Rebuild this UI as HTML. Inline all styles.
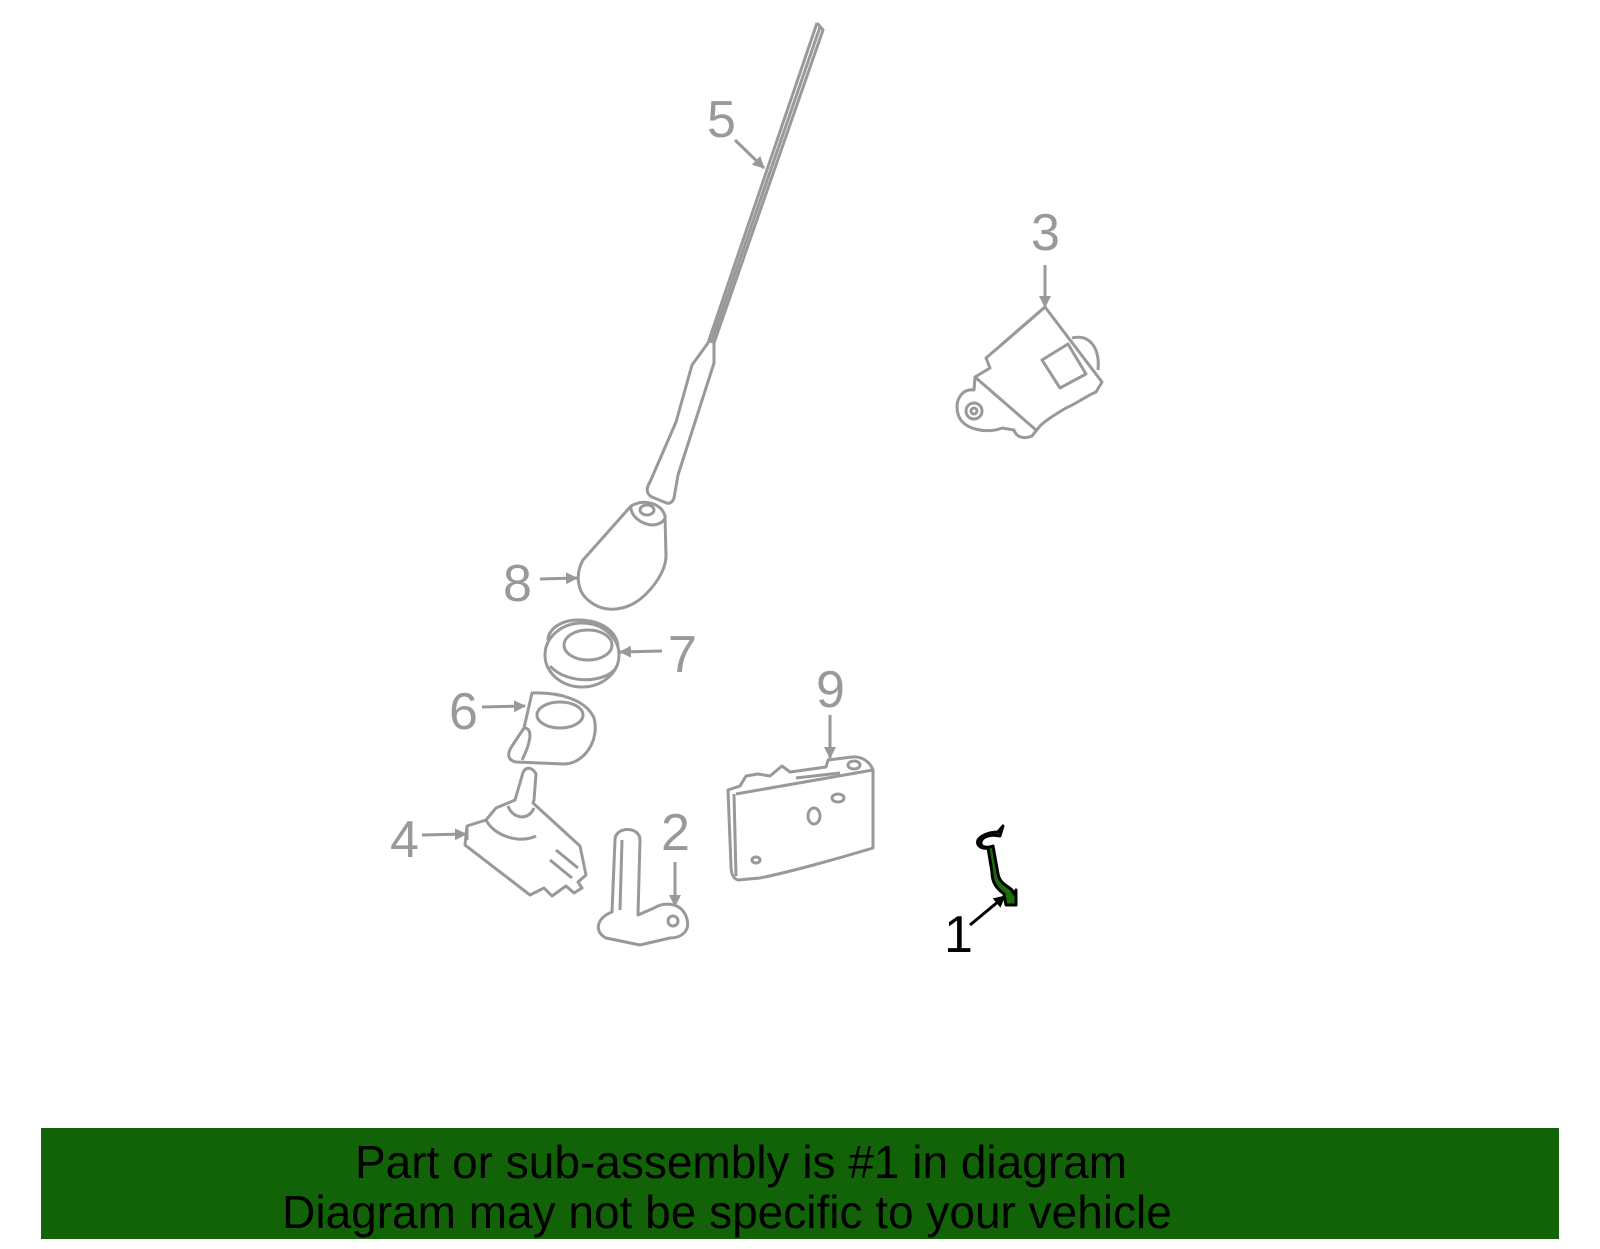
<!DOCTYPE html>
<html><head><style>
html,body{margin:0;padding:0;background:#fff;}
svg{display:block;}
text{font-family:"Liberation Sans",sans-serif;}
</style></head><body>
<svg width="1600" height="1249" viewBox="0 0 1600 1249">
<defs>
<marker id="ag" markerWidth="12" markerHeight="12" refX="11" refY="6" orient="auto" markerUnits="userSpaceOnUse"><path d="M0,0 L12,6 L0,12 Z" fill="#999"/></marker>
<marker id="ab" markerWidth="12" markerHeight="12" refX="11" refY="6" orient="auto" markerUnits="userSpaceOnUse"><path d="M0,0 L12,6 L0,12 Z" fill="#000"/></marker>
</defs>
<g fill="none" stroke="#999" stroke-width="3" stroke-linejoin="round">
<!-- 5 antenna -->
<path d="M817,23 L823,30 L714,343 L714,363 L678,475 L674,498 C672,504 668,504 664,502 L652,497 C646,494 646,488 650,482 L676,422 L692,365 L708,343 L817,23"/>
<path d="M820,27 L711,343"/>
<!-- 8 -->
<path d="M631,506 L583,560 C576,572 576,590 588,600 C604,614 628,612 646,594 C660,580 666,566 666,556 L665,516 C662,504 645,498 631,506 Z"/>
<path d="M631,506 C630,515 640,524 652,525 C660,525 666,520 665,516"/>
<ellipse cx="647" cy="510" rx="7" ry="5"/>
<!-- 7 -->
<ellipse cx="582" cy="655" rx="37" ry="32"/>
<path d="M548,640 C548,630 560,620 578,620 C600,620 616,630 618,646"/>
<ellipse cx="588" cy="645" rx="24" ry="15"/>
<path d="M550,666 C566,684 604,684 616,668"/>
<!-- 6 -->
<path d="M532,693 C560,692 586,700 594,718 C600,740 584,764 564,764 L516,762 C506,760 508,752 512,746 L524,728 Z"/>
<ellipse cx="560" cy="715" rx="23" ry="13"/>
<path d="M524,728 C534,728 530,744 522,760"/>
<!-- 4 -->
<path d="M467,826 L486,820 L496,808 L508,803 L515,800 L522,776 C524,766 532,766 536,774 L534,800 L533,803 L580,846 L586,875 L578,882 L582,888 L574,893 L566,886 L552,896 L544,888 L530,895 L465,845 Z"/>
<path d="M467,826 L467,840"/>
<path d="M486,820 C494,836 520,844 536,836"/>
<path d="M508,806 C512,818 528,822 534,808"/>
<path d="M550,860 L572,878 M556,850 L578,868"/>
<!-- 2 -->
<path d="M615,840 C615,826 640,826 640,840 L638,915 L654,908 C664,902 680,902 686,916 C692,932 680,938 670,938 L640,945 L606,938 C594,932 596,918 612,912 Z"/>
<path d="M622,840 L620,910"/>
<circle cx="673" cy="921" r="5"/>
<!-- 9 -->
<path d="M728,790 L740,786 L746,776 L758,774 L770,776 L782,766 L790,772 L826,767 L828,760 L852,757 C862,756 870,762 873,770 L873,848 C840,858 790,872 760,878 L738,880 C732,878 731,872 731,866 L728,790 Z"/>
<path d="M734,794 L736,876"/>
<path d="M736,794 L873,770"/>
<path d="M796,778 L840,773"/>
<ellipse cx="814" cy="816" rx="6" ry="8"/>
<ellipse cx="838" cy="798" rx="6" ry="4"/>
<ellipse cx="756" cy="860" rx="4" ry="3"/>
<ellipse cx="854" cy="765" rx="6" ry="4"/>
<!-- 3 -->
<path d="M1045,307 L1102,382 L1096,392 C1086,396 1076,404 1066,408 C1056,414 1046,420 1040,426 L1032,436 C1022,440 1016,436 1014,430 L1002,428 C988,434 962,430 958,414 C954,398 964,388 974,390 L975,377 L990,368 L986,358 L1000,346 Z"/>
<path d="M1072,338 C1090,334 1100,348 1098,370"/>
<path d="M1000,346 L1045,307"/>
<path d="M1042,360 L1068,344 L1086,374 L1060,388 Z"/>
<path d="M975,377 L1036,430"/>
<circle cx="974" cy="411" r="8"/>
<circle cx="974" cy="411" r="3"/>
</g>
<!-- part 1 green -->
<path d="M1003,826 L1000,836 C992,834 982,836 981,842 C980,848 988,848 993,846 L998,874 C1000,884 1008,886 1012,890 L1014,894 L1016,890 L1016,905 L1006,905 L1004,894 C996,888 992,882 992,872 L988,848 C982,849 976,846 978,840 C982,834 992,832 998,832 Z" fill="#1b6e0a" stroke="#000" stroke-width="3" stroke-linejoin="round"/>
<g stroke="#999" stroke-width="3" fill="none">
<line x1="735" y1="140" x2="764" y2="168" marker-end="url(#ag)"/>
<line x1="1045" y1="265" x2="1045" y2="307" marker-end="url(#ag)"/>
<line x1="540" y1="579" x2="577" y2="578" marker-end="url(#ag)"/>
<line x1="662" y1="651" x2="620" y2="652" marker-end="url(#ag)"/>
<line x1="482" y1="707" x2="525" y2="706" marker-end="url(#ag)"/>
<line x1="422" y1="835" x2="466" y2="834" marker-end="url(#ag)"/>
<line x1="675" y1="862" x2="675" y2="906" marker-end="url(#ag)"/>
<line x1="830" y1="715" x2="830" y2="758" marker-end="url(#ag)"/>
</g>
<line x1="970" y1="925" x2="1005" y2="896" stroke="#000" stroke-width="3" marker-end="url(#ab)"/>
<g fill="#999" font-size="52">
<text x="707" y="137">5</text>
<text x="1031" y="250">3</text>
<text x="503" y="601">8</text>
<text x="668" y="672">7</text>
<text x="449" y="729">6</text>
<text x="390" y="857">4</text>
<text x="661" y="850">2</text>
<text x="816" y="707">9</text>
</g>
<text x="944" y="952" font-size="52" fill="#000">1</text>
<rect x="41" y="1128" width="1518" height="111" fill="#126307"/>
<g font-size="46" fill="#000" text-anchor="middle">
<text x="741" y="1178">Part or sub-assembly is #1 in diagram</text>
<text x="727" y="1228">Diagram may not be specific to your vehicle</text>
</g>
</svg>
</body></html>
